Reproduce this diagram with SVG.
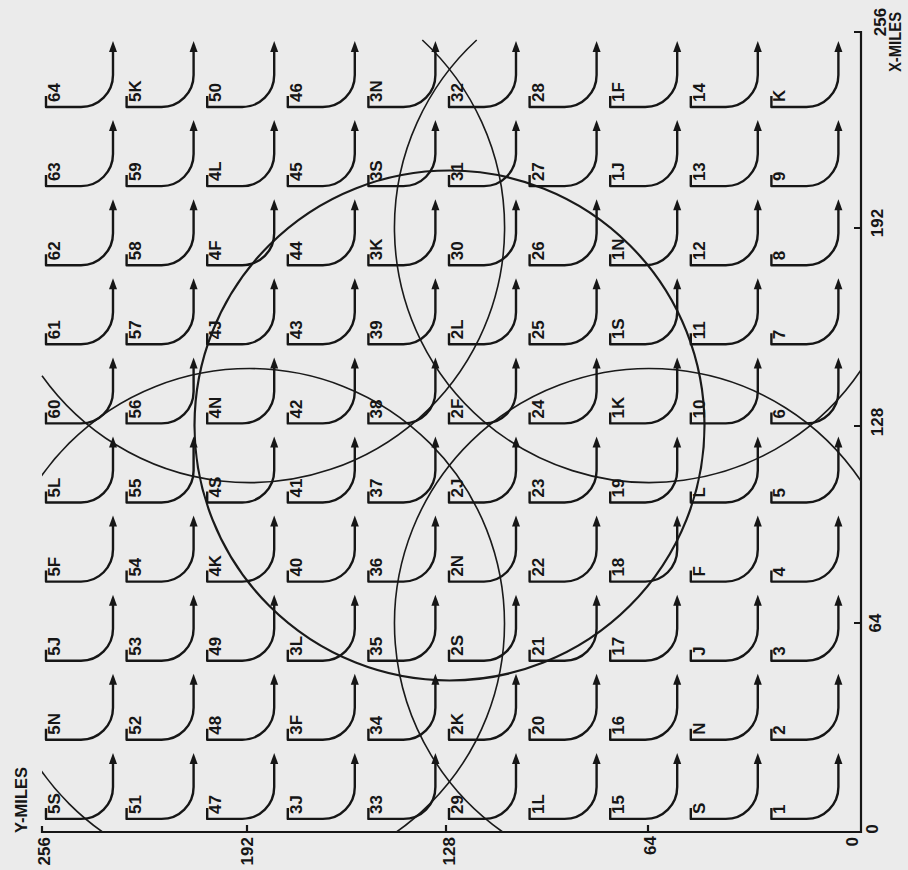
<svg xmlns="http://www.w3.org/2000/svg" xmlns:xlink="http://www.w3.org/1999/xlink" width="908" height="870" viewBox="0 0 908 870">
<style>
.ar{fill:none;stroke:#161616;stroke-width:2.4;stroke-linejoin:round;stroke-linecap:butt}
.ah{fill:#161616}
.lb{font-family:"Liberation Sans",Arial,sans-serif;font-weight:bold;font-size:17px;fill:#161616}
.ax{fill:none;stroke:#161616;stroke-width:2.2}
.big{fill:none;stroke:#1a1a1a;stroke-width:2.2}
.arc{fill:none;stroke:#1a1a1a;stroke-width:1.6}
</style>
<defs>
<g id="arr"><path class="ar" d="M-67,-11V0H-32A32,32 0 0 0 0,-32V-57"/><path class="ah" d="M0,-66L-4,-55L4,-55Z"/></g>
<clipPath id="plot"><rect x="42" y="40" width="819" height="792"/></clipPath>
</defs>
<rect width="908" height="870" fill="#ebebeb"/>
<g id="axes">
<path class="ax" d="M42,826V832H861V32H854"/>
<path class="ax" d="M247,832V825M446,832V825M648,832V825M861,228H854M861,426H854M861,623H854"/>
<text class="lb" transform="translate(50,837) rotate(-90)" text-anchor="end">256</text>
<text class="lb" transform="translate(253,837) rotate(-90)" text-anchor="end">192</text>
<text class="lb" transform="translate(455,837) rotate(-90)" text-anchor="end">128</text>
<text class="lb" transform="translate(656,836) rotate(-90)" text-anchor="end">64</text>
<text class="lb" transform="translate(858,837) rotate(-90)" text-anchor="end">0</text>
<text class="lb" transform="translate(878,829) rotate(-90)" text-anchor="middle">0</text>
<text class="lb" transform="translate(881,623) rotate(-90)" text-anchor="middle">64</text>
<text class="lb" transform="translate(883,422) rotate(-90)" text-anchor="middle">128</text>
<text class="lb" transform="translate(883,223) rotate(-90)" text-anchor="middle">192</text>
<text class="lb" transform="translate(886,22) rotate(-90)" text-anchor="middle">256</text>
<text class="lb" transform="translate(901,72) rotate(-90)" textLength="60" lengthAdjust="spacingAndGlyphs">X-MILES</text>
<text class="lb" transform="translate(27,833) rotate(-90)" textLength="66" lengthAdjust="spacingAndGlyphs">Y-MILES</text>
</g>
<g id="circles">
<circle class="big" cx="449.5" cy="425.5" r="255"/>
<path class="arc" d="M476.7,40A255,255 0 1 0 861,369.95"/>
<path class="arc" d="M422.3,40A255,255 0 1 1 42,375.7"/>
<circle class="arc" cx="249.5" cy="623.5" r="255" clip-path="url(#plot)"/>
<path class="arc" d="M502.7,832A255,255 0 1 1 861,481.05"/>
</g>
<g id="nodes">
<g id="n64" transform="translate(113,107)"><use href="#arr"/><text class="lb" transform="translate(-53,-5) rotate(-90)">64</text></g>
<g id="n5K" transform="translate(193.6,107)"><use href="#arr"/><text class="lb" transform="translate(-53,-5) rotate(-90)">5K</text></g>
<g id="n50" transform="translate(274.2,107)"><use href="#arr"/><text class="lb" transform="translate(-53,-5) rotate(-90)">50</text></g>
<g id="n46" transform="translate(354.8,107)"><use href="#arr"/><text class="lb" transform="translate(-53,-5) rotate(-90)">46</text></g>
<g id="n3N" transform="translate(435.4,107)"><use href="#arr"/><text class="lb" transform="translate(-53,-5) rotate(-90)">3N</text></g>
<g id="n32" transform="translate(516,107)"><use href="#arr"/><text class="lb" transform="translate(-53,-5) rotate(-90)">32</text></g>
<g id="n28" transform="translate(596.6,107)"><use href="#arr"/><text class="lb" transform="translate(-53,-5) rotate(-90)">28</text></g>
<g id="n1F" transform="translate(677.2,107)"><use href="#arr"/><text class="lb" transform="translate(-53,-5) rotate(-90)">1F</text></g>
<g id="n14" transform="translate(757.8,107)"><use href="#arr"/><text class="lb" transform="translate(-53,-5) rotate(-90)">14</text></g>
<g id="nK" transform="translate(838.4,107)"><use href="#arr"/><text class="lb" transform="translate(-53,-5) rotate(-90)">K</text></g>

<g id="n63" transform="translate(113,186.1)"><use href="#arr"/><text class="lb" transform="translate(-53,-5) rotate(-90)">63</text></g>
<g id="n59" transform="translate(193.6,186.1)"><use href="#arr"/><text class="lb" transform="translate(-53,-5) rotate(-90)">59</text></g>
<g id="n4L" transform="translate(274.2,186.1)"><use href="#arr"/><text class="lb" transform="translate(-53,-5) rotate(-90)">4L</text></g>
<g id="n45" transform="translate(354.8,186.1)"><use href="#arr"/><text class="lb" transform="translate(-53,-5) rotate(-90)">45</text></g>
<g id="n3S" transform="translate(435.4,186.1)"><use href="#arr"/><text class="lb" transform="translate(-53,-5) rotate(-90)">3S</text></g>
<g id="n31" transform="translate(516,186.1)"><use href="#arr"/><text class="lb" transform="translate(-53,-5) rotate(-90)">31</text></g>
<g id="n27" transform="translate(596.6,186.1)"><use href="#arr"/><text class="lb" transform="translate(-53,-5) rotate(-90)">27</text></g>
<g id="n1J" transform="translate(677.2,186.1)"><use href="#arr"/><text class="lb" transform="translate(-53,-5) rotate(-90)">1J</text></g>
<g id="n13" transform="translate(757.8,186.1)"><use href="#arr"/><text class="lb" transform="translate(-53,-5) rotate(-90)">13</text></g>
<g id="n9" transform="translate(838.4,186.1)"><use href="#arr"/><text class="lb" transform="translate(-53,-5) rotate(-90)">9</text></g>

<g id="n62" transform="translate(113,265.2)"><use href="#arr"/><text class="lb" transform="translate(-53,-5) rotate(-90)">62</text></g>
<g id="n58" transform="translate(193.6,265.2)"><use href="#arr"/><text class="lb" transform="translate(-53,-5) rotate(-90)">58</text></g>
<g id="n4F" transform="translate(274.2,265.2)"><use href="#arr"/><text class="lb" transform="translate(-53,-5) rotate(-90)">4F</text></g>
<g id="n44" transform="translate(354.8,265.2)"><use href="#arr"/><text class="lb" transform="translate(-53,-5) rotate(-90)">44</text></g>
<g id="n3K" transform="translate(435.4,265.2)"><use href="#arr"/><text class="lb" transform="translate(-53,-5) rotate(-90)">3K</text></g>
<g id="n30" transform="translate(516,265.2)"><use href="#arr"/><text class="lb" transform="translate(-53,-5) rotate(-90)">30</text></g>
<g id="n26" transform="translate(596.6,265.2)"><use href="#arr"/><text class="lb" transform="translate(-53,-5) rotate(-90)">26</text></g>
<g id="n1N" transform="translate(677.2,265.2)"><use href="#arr"/><text class="lb" transform="translate(-53,-5) rotate(-90)">1N</text></g>
<g id="n12" transform="translate(757.8,265.2)"><use href="#arr"/><text class="lb" transform="translate(-53,-5) rotate(-90)">12</text></g>
<g id="n8" transform="translate(838.4,265.2)"><use href="#arr"/><text class="lb" transform="translate(-53,-5) rotate(-90)">8</text></g>

<g id="n61" transform="translate(113,344.3)"><use href="#arr"/><text class="lb" transform="translate(-53,-5) rotate(-90)">61</text></g>
<g id="n57" transform="translate(193.6,344.3)"><use href="#arr"/><text class="lb" transform="translate(-53,-5) rotate(-90)">57</text></g>
<g id="n4J" transform="translate(274.2,344.3)"><use href="#arr"/><text class="lb" transform="translate(-53,-5) rotate(-90)">4J</text></g>
<g id="n43" transform="translate(354.8,344.3)"><use href="#arr"/><text class="lb" transform="translate(-53,-5) rotate(-90)">43</text></g>
<g id="n39" transform="translate(435.4,344.3)"><use href="#arr"/><text class="lb" transform="translate(-53,-5) rotate(-90)">39</text></g>
<g id="n2L" transform="translate(516,344.3)"><use href="#arr"/><text class="lb" transform="translate(-53,-5) rotate(-90)">2L</text></g>
<g id="n25" transform="translate(596.6,344.3)"><use href="#arr"/><text class="lb" transform="translate(-53,-5) rotate(-90)">25</text></g>
<g id="n1S" transform="translate(677.2,344.3)"><use href="#arr"/><text class="lb" transform="translate(-53,-5) rotate(-90)">1S</text></g>
<g id="n11" transform="translate(757.8,344.3)"><use href="#arr"/><text class="lb" transform="translate(-53,-5) rotate(-90)">11</text></g>
<g id="n7" transform="translate(838.4,344.3)"><use href="#arr"/><text class="lb" transform="translate(-53,-5) rotate(-90)">7</text></g>

<g id="n60" transform="translate(113,423.4)"><use href="#arr"/><text class="lb" transform="translate(-53,-5) rotate(-90)">60</text></g>
<g id="n56" transform="translate(193.6,423.4)"><use href="#arr"/><text class="lb" transform="translate(-53,-5) rotate(-90)">56</text></g>
<g id="n4N" transform="translate(274.2,423.4)"><use href="#arr"/><text class="lb" transform="translate(-53,-5) rotate(-90)">4N</text></g>
<g id="n42" transform="translate(354.8,423.4)"><use href="#arr"/><text class="lb" transform="translate(-53,-5) rotate(-90)">42</text></g>
<g id="n38" transform="translate(435.4,423.4)"><use href="#arr"/><text class="lb" transform="translate(-53,-5) rotate(-90)">38</text></g>
<g id="n2F" transform="translate(516,423.4)"><use href="#arr"/><text class="lb" transform="translate(-53,-5) rotate(-90)">2F</text></g>
<g id="n24" transform="translate(596.6,423.4)"><use href="#arr"/><text class="lb" transform="translate(-53,-5) rotate(-90)">24</text></g>
<g id="n1K" transform="translate(677.2,423.4)"><use href="#arr"/><text class="lb" transform="translate(-53,-5) rotate(-90)">1K</text></g>
<g id="n10" transform="translate(757.8,423.4)"><use href="#arr"/><text class="lb" transform="translate(-53,-5) rotate(-90)">10</text></g>
<g id="n6" transform="translate(838.4,423.4)"><use href="#arr"/><text class="lb" transform="translate(-53,-5) rotate(-90)">6</text></g>

<g id="n5L" transform="translate(113,502.5)"><use href="#arr"/><text class="lb" transform="translate(-53,-5) rotate(-90)">5L</text></g>
<g id="n55" transform="translate(193.6,502.5)"><use href="#arr"/><text class="lb" transform="translate(-53,-5) rotate(-90)">55</text></g>
<g id="n4S" transform="translate(274.2,502.5)"><use href="#arr"/><text class="lb" transform="translate(-53,-5) rotate(-90)">4S</text></g>
<g id="n41" transform="translate(354.8,502.5)"><use href="#arr"/><text class="lb" transform="translate(-53,-5) rotate(-90)">41</text></g>
<g id="n37" transform="translate(435.4,502.5)"><use href="#arr"/><text class="lb" transform="translate(-53,-5) rotate(-90)">37</text></g>
<g id="n2J" transform="translate(516,502.5)"><use href="#arr"/><text class="lb" transform="translate(-53,-5) rotate(-90)">2J</text></g>
<g id="n23" transform="translate(596.6,502.5)"><use href="#arr"/><text class="lb" transform="translate(-53,-5) rotate(-90)">23</text></g>
<g id="n19" transform="translate(677.2,502.5)"><use href="#arr"/><text class="lb" transform="translate(-53,-5) rotate(-90)">19</text></g>
<g id="nL" transform="translate(757.8,502.5)"><use href="#arr"/><text class="lb" transform="translate(-53,-5) rotate(-90)">L</text></g>
<g id="n5" transform="translate(838.4,502.5)"><use href="#arr"/><text class="lb" transform="translate(-53,-5) rotate(-90)">5</text></g>

<g id="n5F" transform="translate(113,581.6)"><use href="#arr"/><text class="lb" transform="translate(-53,-5) rotate(-90)">5F</text></g>
<g id="n54" transform="translate(193.6,581.6)"><use href="#arr"/><text class="lb" transform="translate(-53,-5) rotate(-90)">54</text></g>
<g id="n4K" transform="translate(274.2,581.6)"><use href="#arr"/><text class="lb" transform="translate(-53,-5) rotate(-90)">4K</text></g>
<g id="n40" transform="translate(354.8,581.6)"><use href="#arr"/><text class="lb" transform="translate(-53,-5) rotate(-90)">40</text></g>
<g id="n36" transform="translate(435.4,581.6)"><use href="#arr"/><text class="lb" transform="translate(-53,-5) rotate(-90)">36</text></g>
<g id="n2N" transform="translate(516,581.6)"><use href="#arr"/><text class="lb" transform="translate(-53,-5) rotate(-90)">2N</text></g>
<g id="n22" transform="translate(596.6,581.6)"><use href="#arr"/><text class="lb" transform="translate(-53,-5) rotate(-90)">22</text></g>
<g id="n18" transform="translate(677.2,581.6)"><use href="#arr"/><text class="lb" transform="translate(-53,-5) rotate(-90)">18</text></g>
<g id="nF" transform="translate(757.8,581.6)"><use href="#arr"/><text class="lb" transform="translate(-53,-5) rotate(-90)">F</text></g>
<g id="n4" transform="translate(838.4,581.6)"><use href="#arr"/><text class="lb" transform="translate(-53,-5) rotate(-90)">4</text></g>

<g id="n5J" transform="translate(113,660.7)"><use href="#arr"/><text class="lb" transform="translate(-53,-5) rotate(-90)">5J</text></g>
<g id="n53" transform="translate(193.6,660.7)"><use href="#arr"/><text class="lb" transform="translate(-53,-5) rotate(-90)">53</text></g>
<g id="n49" transform="translate(274.2,660.7)"><use href="#arr"/><text class="lb" transform="translate(-53,-5) rotate(-90)">49</text></g>
<g id="n3L" transform="translate(354.8,660.7)"><use href="#arr"/><text class="lb" transform="translate(-53,-5) rotate(-90)">3L</text></g>
<g id="n35" transform="translate(435.4,660.7)"><use href="#arr"/><text class="lb" transform="translate(-53,-5) rotate(-90)">35</text></g>
<g id="n2S" transform="translate(516,660.7)"><use href="#arr"/><text class="lb" transform="translate(-53,-5) rotate(-90)">2S</text></g>
<g id="n21" transform="translate(596.6,660.7)"><use href="#arr"/><text class="lb" transform="translate(-53,-5) rotate(-90)">21</text></g>
<g id="n17" transform="translate(677.2,660.7)"><use href="#arr"/><text class="lb" transform="translate(-53,-5) rotate(-90)">17</text></g>
<g id="nJ" transform="translate(757.8,660.7)"><use href="#arr"/><text class="lb" transform="translate(-53,-5) rotate(-90)">J</text></g>
<g id="n3" transform="translate(838.4,660.7)"><use href="#arr"/><text class="lb" transform="translate(-53,-5) rotate(-90)">3</text></g>

<g id="n5N" transform="translate(113,739.8)"><use href="#arr"/><text class="lb" transform="translate(-53,-5) rotate(-90)">5N</text></g>
<g id="n52" transform="translate(193.6,739.8)"><use href="#arr"/><text class="lb" transform="translate(-53,-5) rotate(-90)">52</text></g>
<g id="n48" transform="translate(274.2,739.8)"><use href="#arr"/><text class="lb" transform="translate(-53,-5) rotate(-90)">48</text></g>
<g id="n3F" transform="translate(354.8,739.8)"><use href="#arr"/><text class="lb" transform="translate(-53,-5) rotate(-90)">3F</text></g>
<g id="n34" transform="translate(435.4,739.8)"><use href="#arr"/><text class="lb" transform="translate(-53,-5) rotate(-90)">34</text></g>
<g id="n2K" transform="translate(516,739.8)"><use href="#arr"/><text class="lb" transform="translate(-53,-5) rotate(-90)">2K</text></g>
<g id="n20" transform="translate(596.6,739.8)"><use href="#arr"/><text class="lb" transform="translate(-53,-5) rotate(-90)">20</text></g>
<g id="n16" transform="translate(677.2,739.8)"><use href="#arr"/><text class="lb" transform="translate(-53,-5) rotate(-90)">16</text></g>
<g id="nN" transform="translate(757.8,739.8)"><use href="#arr"/><text class="lb" transform="translate(-53,-5) rotate(-90)">N</text></g>
<g id="n2" transform="translate(838.4,739.8)"><use href="#arr"/><text class="lb" transform="translate(-53,-5) rotate(-90)">2</text></g>

<g id="n5S" transform="translate(113,818.9)"><use href="#arr"/><text class="lb" transform="translate(-53,-5) rotate(-90)">5S</text></g>
<g id="n51" transform="translate(193.6,818.9)"><use href="#arr"/><text class="lb" transform="translate(-53,-5) rotate(-90)">51</text></g>
<g id="n47" transform="translate(274.2,818.9)"><use href="#arr"/><text class="lb" transform="translate(-53,-5) rotate(-90)">47</text></g>
<g id="n3J" transform="translate(354.8,818.9)"><use href="#arr"/><text class="lb" transform="translate(-53,-5) rotate(-90)">3J</text></g>
<g id="n33" transform="translate(435.4,818.9)"><use href="#arr"/><text class="lb" transform="translate(-53,-5) rotate(-90)">33</text></g>
<g id="n29" transform="translate(516,818.9)"><use href="#arr"/><text class="lb" transform="translate(-53,-5) rotate(-90)">29</text></g>
<g id="n1L" transform="translate(596.6,818.9)"><use href="#arr"/><text class="lb" transform="translate(-53,-5) rotate(-90)">1L</text></g>
<g id="n15" transform="translate(677.2,818.9)"><use href="#arr"/><text class="lb" transform="translate(-53,-5) rotate(-90)">15</text></g>
<g id="nS" transform="translate(757.8,818.9)"><use href="#arr"/><text class="lb" transform="translate(-53,-5) rotate(-90)">S</text></g>
<g id="n1" transform="translate(838.4,818.9)"><use href="#arr"/><text class="lb" transform="translate(-53,-5) rotate(-90)">1</text></g>
</g>
</svg>
